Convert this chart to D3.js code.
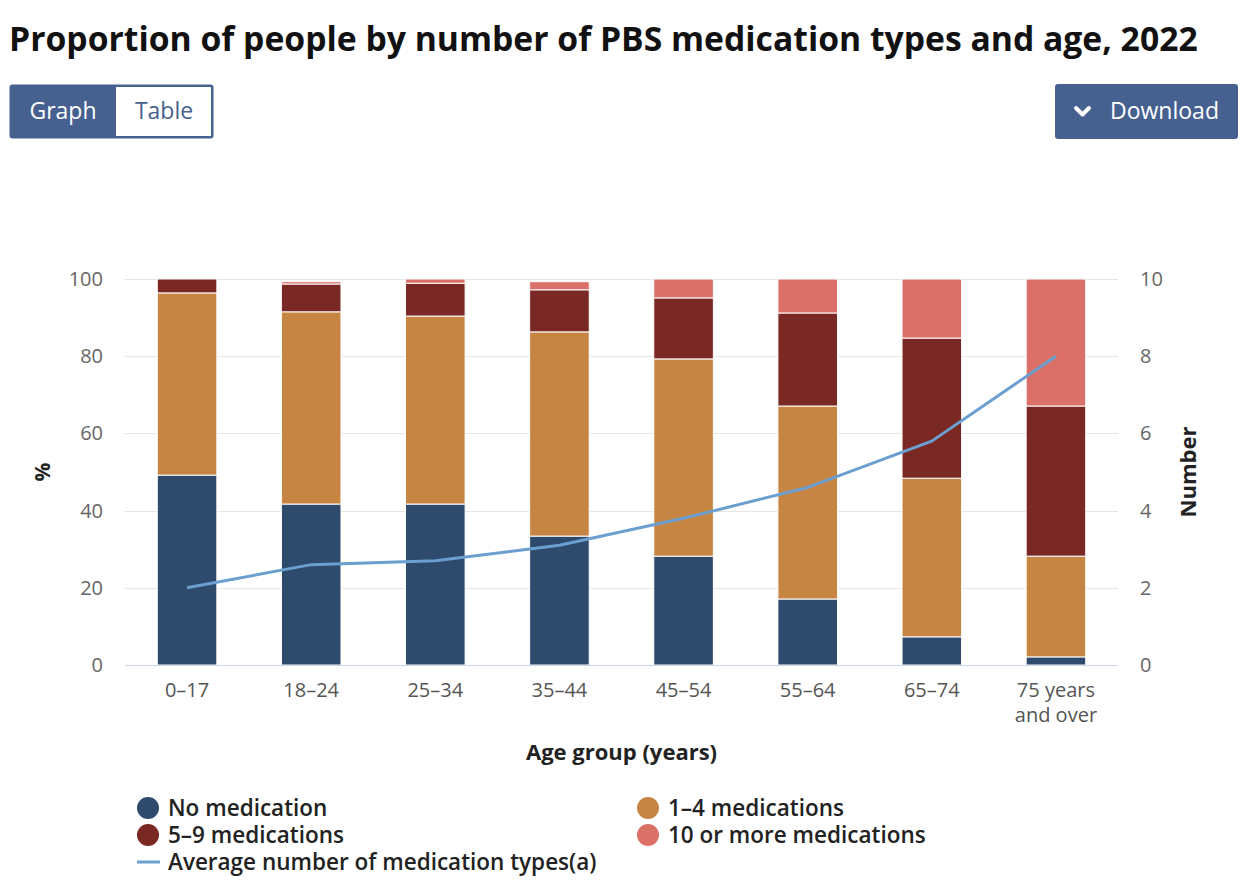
<!DOCTYPE html>
<html>
<head>
<meta charset="utf-8">
<script src="https://cdn.jsdelivr.net/npm/d3@7"></script>
<style>
  body { margin: 0; background: #fff; font-family: "Open Sans", sans-serif; }
  svg { display: block; }
</style>
</head>
<body>
<div id="chart"></div>
<script>
// data
const ageGroups = ["0–17", "18–24", "25–34", "35–44", "45–54", "55–64", "65–74", "75 years and over"];
const noMedication = [49.2, 41.7, 41.7, 33.4, 28.2, 17.1, 7.3, 2.1];
const meds1to4 = [47.2, 49.8, 48.7, 52.9, 51.1, 50.0, 41.1, 26.1];
const meds5to9 = [3.6, 7.2, 8.5, 10.9, 15.8, 24.1, 36.3, 38.9];
const meds10plus = [0.0, 0.6, 1.1, 2.1, 4.9, 8.8, 15.3, 32.9];
const avgMedTypes = [2.0, 2.6, 2.7, 3.1, 3.8, 4.6, 5.8, 8.0];
const leftTicks = [0, 20, 40, 60, 80, 100];
const rightTicks = [0, 2, 4, 6, 8, 10];

const seriesNames = ["No medication", "1–4 medications", "5–9 medications", "10 or more medications"];
const seriesColors = ["#2e4a6c", "#c68542", "#7a2823", "#da7067"];
const lineColor = "#6a9fcf";

const W = 1248, H = 892;
const margin = { left: 125, right: 130, top: 279, bottom: 227 };

const svg = d3.select("#chart").append("svg")
    .attr("width", W)
    .attr("height", H);

// title
svg.append("text")
    .attr("x", 9)
    .attr("y", 51)
    .attr("font-size", 33.7)
    .attr("font-weight", 700)
    .attr("fill", "#111")
    .text("Proportion of people by number of PBS medication types and age, 2022");

// Graph / Table toggle
const btnColor = "#46618f";
svg.append("rect").attr("x", 9.5).attr("y", 84.5).attr("width", 204).attr("height", 54)
    .attr("rx", 3).attr("fill", btnColor);
svg.append("rect").attr("x", 116).attr("y", 87).attr("width", 95).attr("height", 49)
    .attr("fill", "#fff");
svg.append("text").attr("x", 63).attr("y", 119).attr("text-anchor", "middle")
    .attr("font-size", 23).attr("fill", "#fff").text("Graph");
svg.append("text").attr("x", 164).attr("y", 119).attr("text-anchor", "middle")
    .attr("font-size", 23).attr("fill", btnColor).text("Table");

// Download button
svg.append("rect").attr("x", 1055).attr("y", 84).attr("width", 183).attr("height", 55)
    .attr("rx", 3).attr("fill", btnColor);
svg.append("path")
    .attr("d", "M1076,108 L1082.5,114.5 L1089,108")
    .attr("fill", "none").attr("stroke", "#fff").attr("stroke-width", 4)
    .attr("stroke-linecap", "round").attr("stroke-linejoin", "round");
svg.append("text").attr("x", 1110).attr("y", 119)
    .attr("font-size", 23).attr("fill", "#fff").text("Download");

// scales
const x = d3.scaleBand()
    .domain(ageGroups)
    .range([margin.left, W - margin.right])
    .paddingInner(0.52)
    .paddingOuter(0.26);

const y = d3.scaleLinear().domain([0, 100]).range([H - margin.bottom, margin.top]);
const y2 = d3.scaleLinear().domain([0, 10]).range([H - margin.bottom, margin.top]);

// grid lines
svg.append("g")
    .selectAll("line")
    .data(leftTicks.filter(d => d > 0))
    .join("line")
    .attr("x1", margin.left).attr("x2", W - margin.right)
    .attr("y1", d => Math.round(y(d)) + 0.5).attr("y2", d => Math.round(y(d)) + 0.5)
    .attr("stroke", "#e6e6e6").attr("stroke-width", 1);

// left axis
const leftAxis = svg.append("g")
    .attr("transform", `translate(${margin.left - 22},0)`)
    .call(d3.axisLeft(y).tickValues(leftTicks).tickSize(0).tickPadding(0));
leftAxis.select(".domain").remove();
leftAxis.selectAll("text")
    .attr("font-family", "Open Sans, sans-serif")
    .attr("font-size", 20).attr("fill", "#666");

// right axis
const rightAxis = svg.append("g")
    .attr("transform", `translate(${W - margin.right + 22},0)`)
    .call(d3.axisRight(y2).tickValues(rightTicks).tickSize(0).tickPadding(0));
rightAxis.select(".domain").remove();
rightAxis.selectAll("text")
    .attr("font-family", "Open Sans, sans-serif")
    .attr("font-size", 20).attr("fill", "#666");

// stacked bars
const rows = ageGroups.map((g, i) => ({
    group: g,
    s0: noMedication[i], s1: meds1to4[i], s2: meds5to9[i], s3: meds10plus[i]
}));
const stack = d3.stack().keys(["s0", "s1", "s2", "s3"]);
const stacked = stack(rows);

svg.append("g")
    .selectAll("g")
    .data(stacked)
    .join("g")
    .attr("fill", (d, i) => seriesColors[i])
    .selectAll("rect")
    .data(d => d.filter(p => p[1] - p[0] > 0))
    .join("rect")
    .attr("x", d => x(d.data.group))
    .attr("width", x.bandwidth())
    .attr("y", d => y(d[1]))
    .attr("height", d => y(d[0]) - y(d[1]))
    .attr("stroke", "#fff")
    .attr("stroke-width", 1);

// baseline
svg.append("line")
    .attr("x1", margin.left).attr("x2", W - margin.right)
    .attr("y1", y(0) + 0.5).attr("y2", y(0) + 0.5)
    .attr("stroke", "#ccd6eb").attr("stroke-width", 1);

// average line
const line = d3.line()
    .x((d, i) => x(ageGroups[i]) + x.bandwidth() / 2)
    .y(d => y2(d));
svg.append("path")
    .datum(avgMedTypes)
    .attr("d", line)
    .attr("fill", "none")
    .attr("stroke", lineColor)
    .attr("stroke-width", 3)
    .attr("stroke-linejoin", "round");

// x labels
const xl = svg.append("g")
    .selectAll("text")
    .data(ageGroups)
    .join("text")
    .attr("x", d => x(d) + x.bandwidth() / 2)
    .attr("y", y(0) + 32)
    .attr("text-anchor", "middle")
    .attr("font-size", 20)
    .attr("fill", "#555");
xl.each(function (d) {
    const t = d3.select(this);
    if (d === "75 years and over") {
        t.append("tspan").attr("x", x(d) + x.bandwidth() / 2).text("75 years");
        t.append("tspan").attr("x", x(d) + x.bandwidth() / 2).attr("dy", 25).text("and over");
    } else {
        t.text(d);
    }
});

// axis titles
svg.append("text")
    .attr("transform", `translate(50,${(y(0) + y(100)) / 2}) rotate(-90)`)
    .attr("text-anchor", "middle")
    .attr("font-size", 21).attr("font-weight", 700).attr("fill", "#222")
    .text("%");
svg.append("text")
    .attr("transform", `translate(1196,${(y(0) + y(100)) / 2}) rotate(-90)`)
    .attr("text-anchor", "middle")
    .attr("font-size", 22).attr("font-weight", 700).attr("fill", "#222")
    .text("Number");
svg.append("text")
    .attr("x", (margin.left + W - margin.right) / 2)
    .attr("y", 760)
    .attr("text-anchor", "middle")
    .attr("font-size", 22).attr("font-weight", 700).attr("fill", "#222")
    .text("Age group (years)");

// legend
const legendItems = [
    { name: seriesNames[0], color: seriesColors[0], col: 0, row: 0 },
    { name: seriesNames[1], color: seriesColors[1], col: 1, row: 0 },
    { name: seriesNames[2], color: seriesColors[2], col: 0, row: 1 },
    { name: seriesNames[3], color: seriesColors[3], col: 1, row: 1 }
];
const legend = svg.append("g");
const colX = [148, 648];
const rowY = [808, 835, 862];
const legendFont = 22.5;
legendItems.forEach(it => {
    legend.append("circle")
        .attr("cx", colX[it.col]).attr("cy", rowY[it.row])
        .attr("r", 11).attr("fill", it.color);
    legend.append("text")
        .attr("x", colX[it.col] + 20).attr("y", rowY[it.row] + 8)
        .attr("font-size", legendFont).attr("font-weight", 600).attr("fill", "#222")
        .text(it.name);
});
legend.append("line")
    .attr("x1", 137).attr("x2", 160)
    .attr("y1", rowY[2]).attr("y2", rowY[2])
    .attr("stroke", lineColor).attr("stroke-width", 3);
legend.append("text")
    .attr("x", 168).attr("y", rowY[2] + 8)
    .attr("font-size", legendFont).attr("font-weight", 600).attr("fill", "#222")
    .text("Average number of medication types(a)");
</script>
</body>
</html>
